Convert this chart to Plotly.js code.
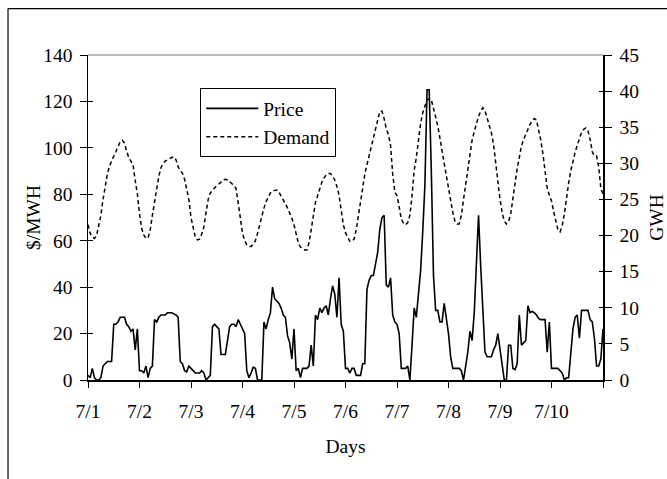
<!DOCTYPE html>
<html>
<head>
<meta charset="utf-8">
<script src="https://cdn.plot.ly/plotly-3.0.1.min.js"></script>
<style>html,body{margin:0;padding:0;background:#fff;}#chart{width:667px;height:479px;}</style>
</head>
<body>
<div id="chart"></div>
<script>
// Day tick labels (one tick every 24 hours)
const dayLabels = ['7/1','7/2','7/3','7/4','7/5','7/6','7/7','7/8','7/9','7/10',''];
const dayTickHours = [0,24,48,72,96,120,144,168,192,216,240];

// Hourly price, $/MWH (hour 0 = 7/1 00:00)
const price = [
  2,1,5,1,0,0,1,6,7,8,8,8,24,24,25,27,27,27,24,23,21,22,13,22,
  4,4,3,6,1,5,6,26,25,27,28,28,28,29,29,29,28.5,28,27,8,7,4,3.5,6,
  5,4,3,3,3,4,3,0,1,2,23,24,23,22,11,11,11,17,23,24,24,23,26,24,
  22,20,4,1,3,5.5,5,0,0,0,25,22,26,29,40,35,34,33,31,28,27,19,16,9,
  22,4,5,1,5,5,5,6,15,6,28,26,31,29,31,32,28,35,40.5,37,27,44,24,21,
  5,5,3,5,5,2,2,2,7,7,39,43,45,45,50,55,65,70,71,41,40,44,28,25,
  24,20,5,5,5,6,0,15,31,27,38,47,64,84,125,125,90,45,30,30,25,25,33,27,
  20,10,5,5,5,5,4,0,6,12,21,17,29,50,71,49,28,12,10,10,10,13,15,20,
  13,5,0,0,15,15,5,4.5,7,28,15,16,17,32,29,29.5,29,28,26.5,26,26,26,12,25,
  5,5,5,5,4,3,0,1,1,13,22,27,28,18,30,30,30,30,26,25,18,6,6,9,22
];

// Hourly demand, GWH
const demand = [
  21.5,20.3,19.8,19.6,20.0,21.3,22.8,25.0,27.0,28.5,29.6,30.4,31.0,31.6,32.3,33.0,33.2,32.8,31.7,30.8,30.3,29.8,27.6,25.8,
  23.0,21.0,20.1,19.6,19.7,20.8,22.8,24.8,26.5,28.2,29.4,30.0,30.3,30.5,30.6,30.8,30.9,30.5,29.5,29.0,28.6,27.8,26.2,25.0,
  22.5,21.0,19.8,19.4,19.5,20.2,21.2,23.2,25.0,25.9,26.3,26.6,26.9,27.1,27.4,27.7,27.8,27.7,27.4,27.2,27.0,26.5,24.5,22.3,
  20.3,19.3,18.7,18.5,18.5,18.8,19.3,20.3,21.6,22.8,23.8,24.7,25.4,25.9,26.2,26.3,26.3,26.0,25.5,24.9,24.4,23.8,23.2,22.4,
  21.5,20.0,19.0,18.4,18.2,18.0,18.0,19.0,20.8,23.0,24.6,25.5,26.6,27.4,28.0,28.4,28.6,28.6,28.2,27.7,26.8,25.6,23.5,21.5,
  20.4,19.7,19.2,19.2,19.5,20.8,22.8,24.2,26.5,28.5,29.8,31.0,32.0,33.5,34.8,36.0,37.2,37.2,36.2,34.8,34.0,32.5,28.5,26.0,
  25.5,24.0,22.3,21.7,21.5,21.8,22.8,25.5,29.0,30.8,33.5,35.5,37.0,38.0,38.8,38.9,38.8,37.6,36.5,35.2,33.5,32.0,30.0,28.3,
  26.5,24.8,23.2,22.0,21.6,21.6,22.8,25.0,27.0,29.5,31.5,33.2,34.4,35.5,36.5,37.2,37.7,37.3,36.2,35.2,34.2,32.6,30.0,27.0,
  25.0,23.2,22.0,21.6,21.9,23.0,25.2,27.6,29.3,30.8,32.4,33.3,34.1,34.8,35.4,35.9,36.2,36.0,34.8,33.2,31.3,29.3,26.6,25.6,
  24.8,23.3,21.8,20.8,20.5,21.4,23.0,25.5,27.3,29.0,30.5,31.5,32.5,33.4,34.3,34.7,34.9,34.5,33.3,31.6,31.0,31.0,29.5,26.5,25.8
];

const hoursP = price.map((v,i)=>i);
const hoursD = demand.map((v,i)=>i);

const FONT = '"Liberation Serif", "Times New Roman", serif';
const tf = {family: FONT, size: 19.5, color: '#000'};

const data = [
  {x: hoursP, y: price, name: 'Price', type: 'scatter', mode: 'lines',
   line: {color: '#000', width: 1.6}, yaxis: 'y', legendgroup: 'a'},
  {x: hoursD, y: demand, name: 'Demand', type: 'scatter', mode: 'lines',
   line: {color: '#000', width: 1.5, dash: '4px,3px'}, yaxis: 'y2', legendgroup: 'b'},
  {x: [], y: [], yaxis: 'y3', showlegend: false, hoverinfo: 'skip'},
  {x: [], y: [], yaxis: 'y4', showlegend: false, hoverinfo: 'skip'}
];

const layout = {
  width: 667, height: 479,
  margin: {l: 88, r: 64, t: 55, b: 99},
  paper_bgcolor: '#fff', plot_bgcolor: '#fff',
  font: tf,
  showlegend: true,
  legend: {x: 0.218, y: 0.898, xanchor: 'left', yanchor: 'top',
    bgcolor: '#fff', bordercolor: '#000', borderwidth: 1,
    font: tf, itemwidth: 52, tracegroupgap: 0},
  xaxis: {range: [0, 240], tickmode: 'array', tickvals: dayTickHours, ticktext: dayLabels,
    ticks: 'outside', ticklen: 6, tickcolor: '#000', tickwidth: 1,
    showline: true, linecolor: '#000', linewidth: 1.5, showgrid: false, zeroline: false,
    ticklabelstandoff: 7, tickfont: tf,
    title: {text: 'Days', font: tf, standoff: 18}},
  yaxis: {range: [0, 140], dtick: 20, tick0: 0, ticks: 'outside', ticklen: 7, tickcolor: '#000',
    showline: true, linecolor: '#000', linewidth: 1.5, showgrid: false, zeroline: false,
    ticklabelstandoff: 3, tickfont: tf},
  yaxis3: {range: [0, 140], dtick: 20, tick0: 0, overlaying: 'y', side: 'left',
    ticks: 'inside', ticklen: 5, tickcolor: '#000', showticklabels: false,
    showline: false, showgrid: false, zeroline: false,
    title: {text: '$/MWH', font: tf, standoff: 41}},
  yaxis2: {range: [0, 45], dtick: 5, tick0: 0, overlaying: 'y', side: 'right',
    ticks: 'outside', ticklen: 7, tickcolor: '#000',
    showline: true, linecolor: '#000', linewidth: 1.5, showgrid: false, zeroline: false,
    ticklabelstandoff: 4, tickfont: tf},
  yaxis4: {range: [0, 45], dtick: 5, tick0: 0, overlaying: 'y', side: 'right',
    ticks: 'inside', ticklen: 4, tickcolor: '#000', showticklabels: false,
    showline: false, showgrid: false, zeroline: false,
    title: {text: 'GWH', font: tf, standoff: 46}},
  shapes: [
    {type: 'line', xref: 'paper', yref: 'paper', x0: 0, x1: 1, y0: 1, y1: 1,
     line: {color: '#808080', width: 1.2}},
    {type: 'line', xref: 'paper', yref: 'paper', x0: -0.1553, x1: -0.1553, y0: -0.31, y1: 1.143,
     line: {color: '#000', width: 1.2}},
    {type: 'line', xref: 'paper', yref: 'paper', x0: -0.1553, x1: 1.13, y0: 1.143, y1: 1.143,
     line: {color: '#000', width: 1.2}}
  ]
};

Plotly.newPlot('chart', data, layout, {displayModeBar: false, staticPlot: true});
</script>
</body>
</html>
